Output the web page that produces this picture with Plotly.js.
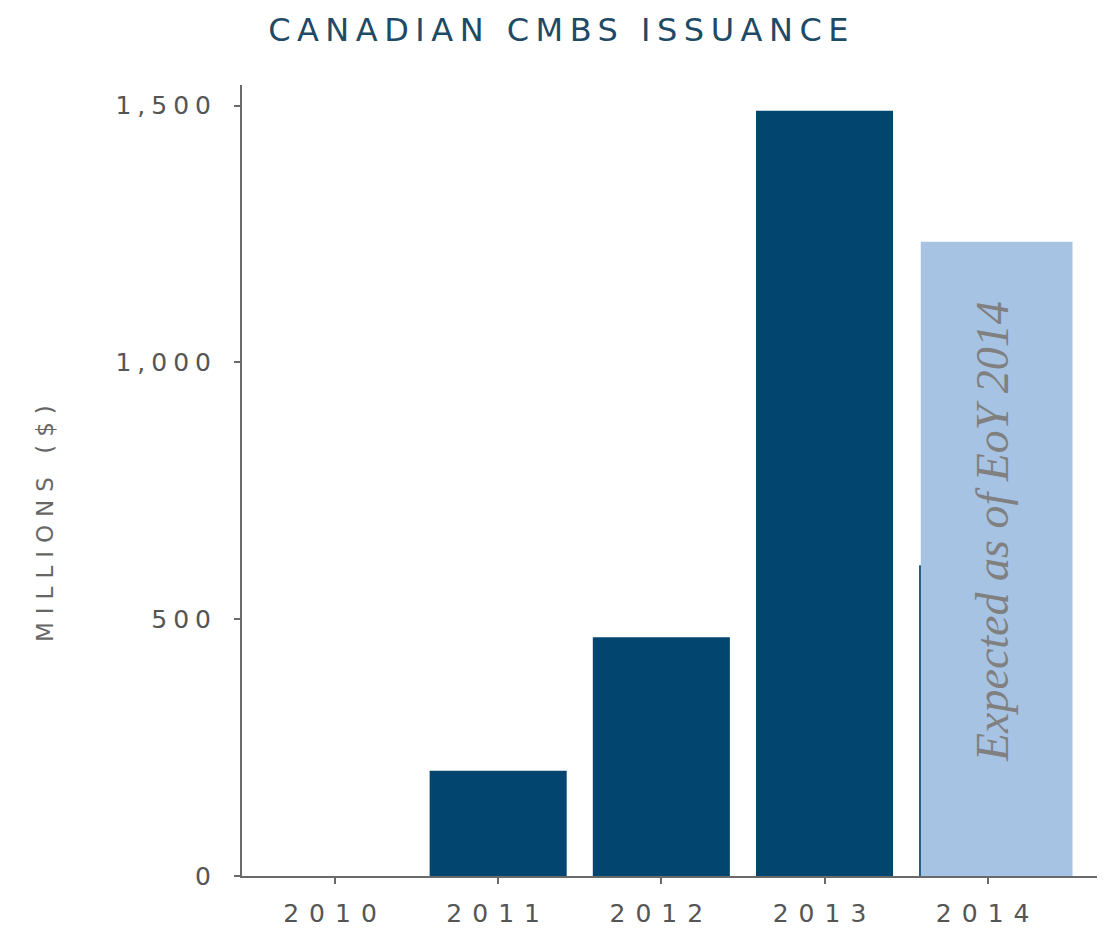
<!DOCTYPE html>
<html>
<head>
<meta charset="utf-8">
<script src="https://cdn.plot.ly/plotly-3.0.1.min.js"></script>
<style>
  html, body { margin: 0; padding: 0; background: #fff; }
  #chart { width: 1112px; height: 930px; }
  .gtitle { letter-spacing: 6.5px; }
  .xtick text { letter-spacing: 10px; }
  .ytick text { letter-spacing: 6px; }
  .annotation.ytitle-note text { letter-spacing: 8px; }
</style>
</head>
<body>
<div id="chart"></div>
<script>
const years = ['2010', '2011', '2012', '2013', '2014'];
const issuance = [0, 205, 465, 1490, 605];
const expectedYears = ['2014'];
const expectedValues = [1235];
const yTickVals = [0, 500, 1000, 1500];
const yTickText = ['0', '500', '1,000', '1,500'];
const noteText = 'Expected as of EoY 2014';
const yTitleText = 'MILLIONS ($)';

const traces = [
  {
    type: 'bar', x: years, y: issuance, width: 0.84,
    marker: { color: '#02456f' }, hoverinfo: 'x+y'
  },
  {
    type: 'bar', x: expectedYears, y: expectedValues, width: 0.93, offset: -0.41,
    marker: { color: '#a7c3e4' }, hoverinfo: 'x+y'
  }
];

const layout = {
  width: 1112, height: 930,
  margin: { l: 242, r: 15, t: 85, b: 54 },
  paper_bgcolor: '#ffffff', plot_bgcolor: '#ffffff',
  showlegend: false, barmode: 'overlay',
  title: {
    text: 'CANADIAN CMBS ISSUANCE',
    font: { family: 'DejaVu Sans', size: 32, color: '#1f4a66' },
    x: 0.505, xanchor: 'center', y: 0.968, yanchor: 'middle'
  },
  xaxis: {
    type: 'category', range: [-0.57, 4.67],
    showline: true, linecolor: '#6a6a6a', linewidth: 2,
    ticks: 'outside', ticklen: 6, tickcolor: '#6a6a6a', tickwidth: 2,
    tickfont: { family: 'DejaVu Sans', size: 25, color: '#555555' },
    showgrid: false, zeroline: false, ticklabelstandoff: 8
  },
  yaxis: {
    range: [0, 1540],
    showline: true, linecolor: '#6a6a6a', linewidth: 2,
    ticks: 'outside', ticklen: 6, tickcolor: '#6a6a6a', tickwidth: 2,
    tickvals: yTickVals, ticktext: yTickText,
    tickfont: { family: 'DejaVu Sans', size: 25, color: '#555555' },
    showgrid: false, zeroline: false, ticklabelstandoff: 12
  },
  annotations: [
    {
      x: 0, y: 0.45, xref: 'paper', yref: 'paper', xshift: -212,
      text: yTitleText, textangle: -90, showarrow: false,
      font: { family: 'DejaVu Sans', size: 23, color: '#666666' }
    },
    {
      x: 0.5, y: 0.5, xref: 'paper', yref: 'paper',
      text: '<i>' + noteText + '</i>', textangle: -90, showarrow: false,
      font: { family: 'Liberation Serif', size: 46, color: '#808080' }
    }
  ]
};

Plotly.newPlot('chart', traces, layout, { displayModeBar: false, staticPlot: true }).then(function (gd) {
  // place the note over the 2014 bar, using the axis scales
  const xa = gd._fullLayout.xaxis, ya = gd._fullLayout.yaxis;
  const cx = xa.l2p(4) + 33;
  const cy = ya.l2p(670);
  const xp = cx / xa._length;
  const yp = 1 - cy / ya._length;
  Plotly.relayout(gd, { 'annotations[1].x': xp, 'annotations[1].y': yp });
  document.querySelectorAll('.annotation')[0].classList.add('ytitle-note');
});
</script>
</body>
</html>
